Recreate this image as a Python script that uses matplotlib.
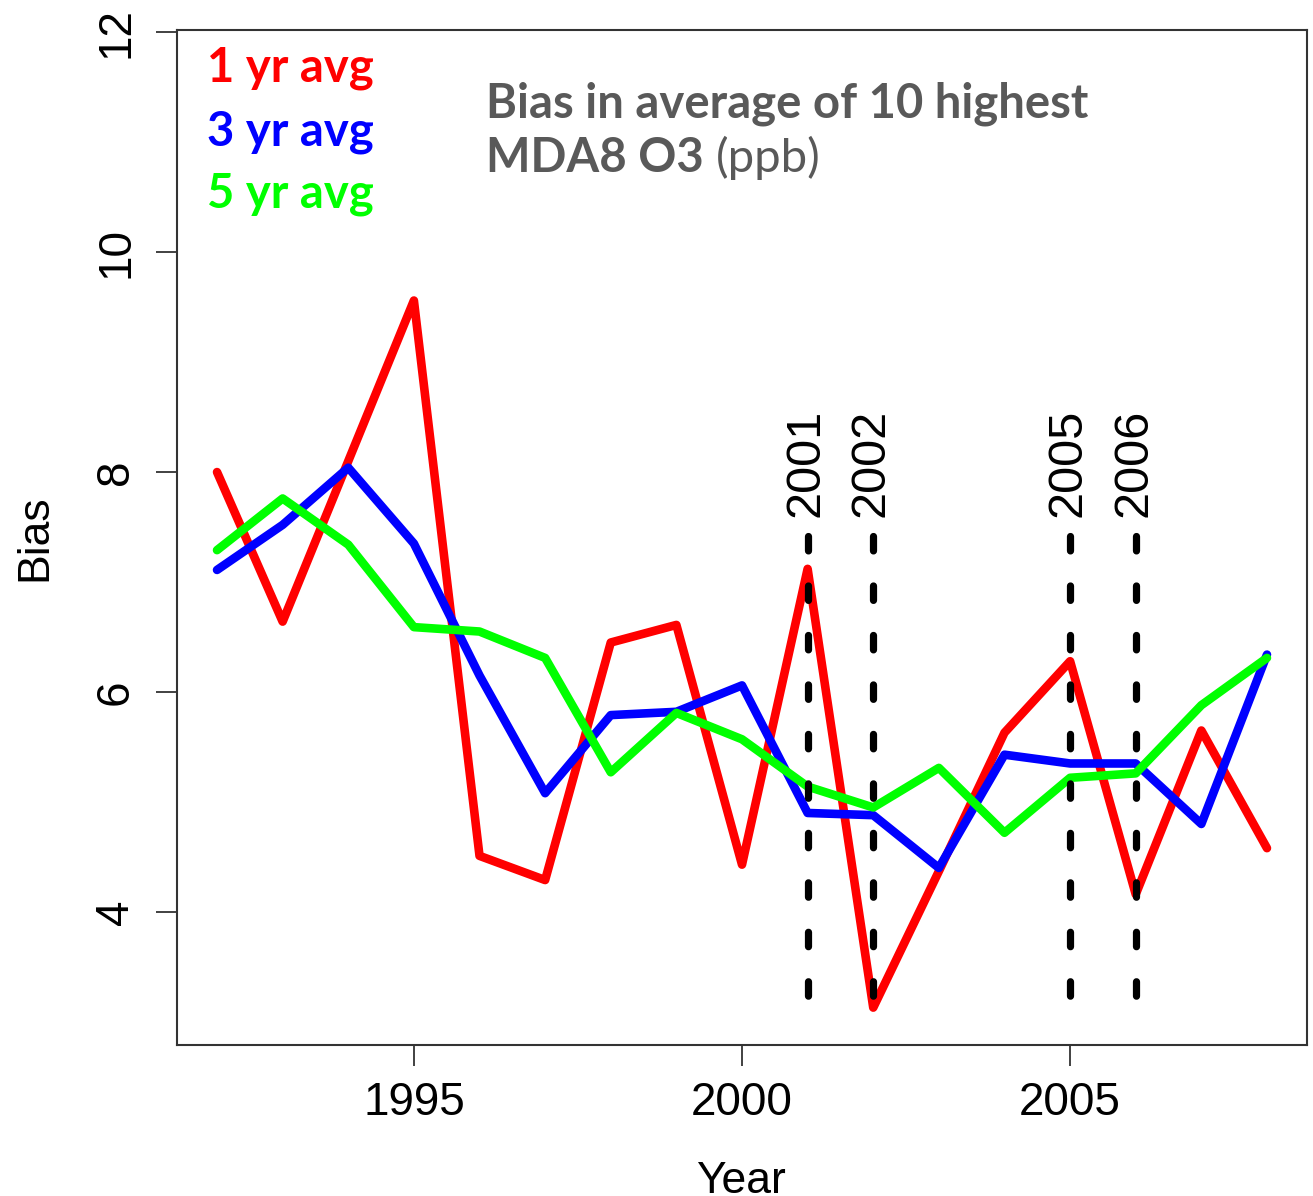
import matplotlib
matplotlib.use("Agg")
import matplotlib.pyplot as plt

# data
years = [1992, 1993, 1994, 1995, 1996, 1997, 1998, 1999, 2000,
         2001, 2002, 2003, 2004, 2005, 2006, 2007, 2008]
avg1 = [8.00, 6.64, 8.10, 9.56, 4.51, 4.29, 6.45, 6.61, 4.43,
        7.12, 3.13, 4.37, 5.63, 6.28, 4.16, 5.65, 4.58]
avg3 = [7.11, 7.52, 8.04, 7.35, 6.15, 5.08, 5.79, 5.82, 6.06,
        4.90, 4.88, 4.40, 5.43, 5.35, 5.35, 4.80, 6.34]
avg5 = [7.29, 7.76, 7.34, 6.59, 6.55, 6.31, 5.27, 5.81, 5.57,
        5.14, 4.95, 5.31, 4.72, 5.22, 5.26, 5.88, 6.31]
marked_years = [2001, 2002, 2005, 2006]
mark_lo, mark_hi = 3.21, 7.42
xticks = [1995, 2000, 2005]
yticks = [4, 6, 8, 10, 12]

W, H = 1313, 1196
fig = plt.figure(figsize=(W / 100, H / 100), dpi=100)
ax = fig.add_axes([177 / W, 1 - 1045 / H, (1307 - 177) / W, (1045 - 30) / H])

ax.plot(years, avg1, color="#ff0000", lw=6.2, solid_joinstyle="round", solid_capstyle="round")
ax.plot(years, avg3, color="#0000ff", lw=6.2, solid_joinstyle="round", solid_capstyle="round")
ax.plot(years, avg5, color="#00ff00", lw=6.2, solid_joinstyle="round", solid_capstyle="round")
# draw top -> bottom so the dash pattern starts at the top
ax.vlines(marked_years, mark_hi, mark_lo, colors="black", lw=5.2,
          linestyles=(0, (2.0, 4.85)), capstyle="round")
for yr in marked_years:
    ax.text(yr - 0.03, 7.59, str(yr), rotation=90, ha="center", va="bottom",
            fontsize=35, family="Liberation Sans")

ax.set_xlim(1991.39, 2008.61)
ax.set_ylim(2.79, 12.02)
ax.set_xticks(xticks)
ax.set_yticks(yticks)
ax.tick_params(length=15, width=1.3, color="#333333", labelsize=33)
ax.tick_params(axis="x", pad=11)
ax.tick_params(axis="y", labelrotation=90, pad=13)
for lbl in ax.get_xticklabels() + ax.get_yticklabels():
    lbl.set_family("Liberation Sans")
for lbl in ax.get_yticklabels():
    lbl.set_va("center")
for sp in ax.spines.values():
    sp.set_color("#333333")
    sp.set_linewidth(1.5)

fig.text(35 / W, 1 - 538 / H, "Bias", rotation=90, ha="center", va="center",
         fontsize=32, family="Liberation Sans")
fig.text(741 / W, 1 - 1193 / H, "Year", ha="center", va="baseline",
         fontsize=32, family="Liberation Sans")

# coloured labels standing in for a legend
leg = [("1 yr avg", "#ff0000", 82), ("3 yr avg", "#0000ff", 145), ("5 yr avg", "#00ff00", 208)]
for txt, col, yb in leg:
    fig.text(207 / W, 1 - yb / H, txt, color=col, fontsize=34, fontweight="bold",
             family="Lato", va="baseline")

gray = "#595959"
fig.text(486 / W, 1 - 117 / H, "Bias in average of 10 highest", color=gray, fontsize=34,
         fontweight="bold", family="Lato", va="baseline")
fig.text(486 / W, 1 - 172 / H, "MDA8 O3", color=gray, fontsize=34,
         fontweight="bold", family="Lato", va="baseline")
fig.text(716 / W, 1 - 172 / H, "(ppb)", color=gray, fontsize=34,
         family="Lato", va="baseline")

fig.savefig("out.png", dpi=100)
